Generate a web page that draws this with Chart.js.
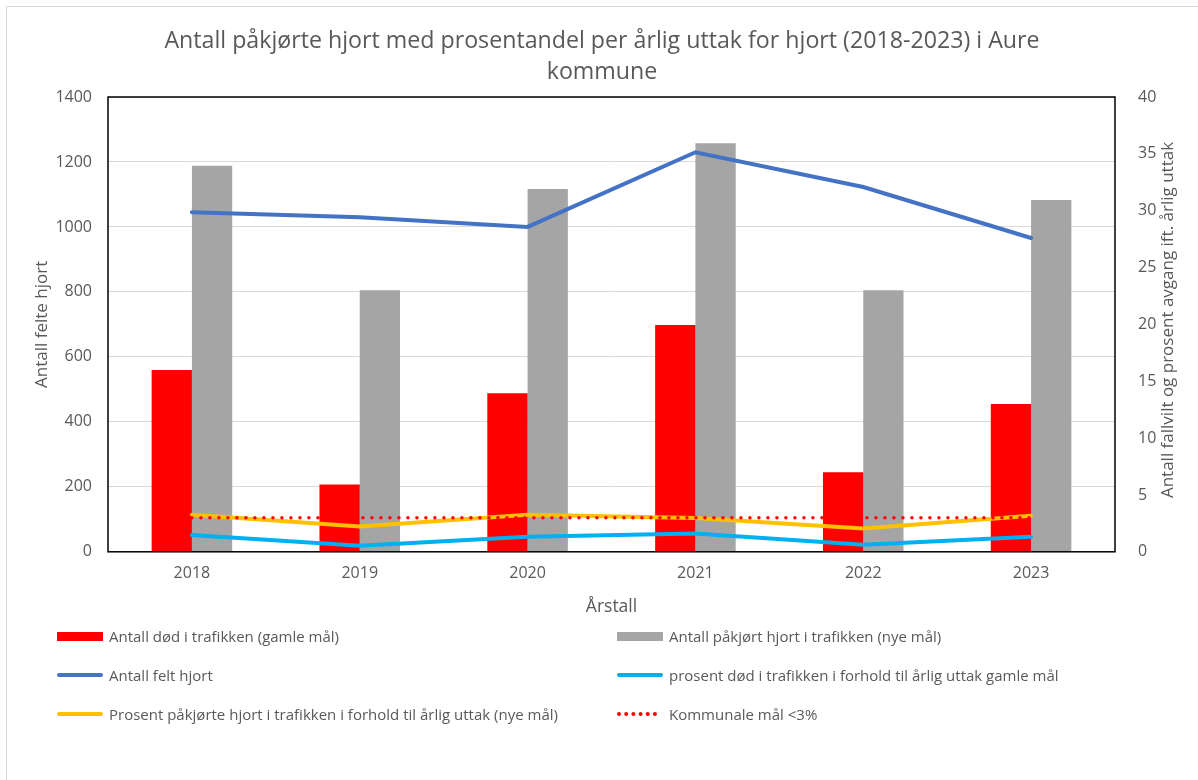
<!DOCTYPE html>
<html lang="no">
<head>
<meta charset="utf-8">
<title>Påkjørte hjort Aure</title>
<script src="https://cdn.jsdelivr.net/npm/chart.js@4.4.1/dist/chart.umd.min.js"></script>
<style>
  html, body { margin: 0; padding: 0; background: #fff; overflow: hidden; }
  body { width: 1198px; height: 780px; position: relative; font-family: 'Open Sans', sans-serif; color: #595959; }
  .frame { position: absolute; left: 6px; top: 6px; width: 1300px; height: 900px; border: 1px solid #d9d9d9; box-sizing: border-box; }
  .wrap { position: absolute; left: 0; top: 0; width: 1198px; height: 780px; }
  .title { position: absolute; left: 0; top: 24px; width: 1204px; text-align: center; font-size: 23.2px; line-height: 31px; }
  .legend { position: absolute; left: 0; top: 0; width: 1198px; height: 780px; pointer-events: none; }
  .item { position: absolute; display: flex; align-items: center; font-size: 15px; white-space: nowrap; height: 20px; }
  .swatch { width: 46px; height: 20px; margin-right: 6px; position: relative; }
  .swatch span { position: absolute; left: 0; right: 0; top: 50%; }
  .ytitle-right { position: absolute; left: 1166px; top: 320px; transform: translate(-50%, -50%) rotate(-90deg);
    white-space: nowrap; font-size: 17px; }
</style>
</head>
<body>
<div class="frame"></div>
<div class="wrap"><canvas id="chart" width="1198" height="780"></canvas></div>
<div class="title">Antall påkjørte hjort med prosentandel per årlig uttak for hjort (2018-2023) i Aure<br>kommune</div>
<div class="legend" id="legend"></div>
<div class="ytitle-right">Antall fallvilt og prosent avgang ift. årlig uttak</div>

<script>
// Data lest av fra figuren
const years = ['2018', '2019', '2020', '2021', '2022', '2023'];
const deadOld = [560, 207, 488, 698, 245, 455];          // Antall død i trafikken (gamle mål)
const hitNew = [1188, 805, 1117, 1258, 805, 1083];       // Antall påkjørt hjort i trafikken (nye mål)
const felled = [1045, 1030, 1000, 1230, 1123, 966];      // Antall felt hjort
const pctDeadOld = [1.47, 0.53, 1.32, 1.61, 0.62, 1.32]; // prosent død i trafikken
const pctHitNew = [3.26, 2.23, 3.26, 2.97, 2.05, 3.17];  // prosent påkjørte (nye mål)
const municipalGoal = [3, 3, 3, 3, 3, 3];                 // Kommunale mål <3%

const leftTicks = [0, 200, 400, 600, 800, 1000, 1200, 1400];
const rightTicks = [0, 5, 10, 15, 20, 25, 30, 35, 40];

const textColor = '#595959';
const gridColor = '#d9d9d9';
const font = "'Open Sans', sans-serif";

// Ramme rundt plotområdet
const plotFrame = {
  id: 'plotFrame',
  afterDatasetsDraw(chart) {
    const { ctx, chartArea: a } = chart;
    ctx.save();
    ctx.strokeStyle = '#000';
    ctx.lineWidth = 1.5;
    ctx.strokeRect(a.left, a.top, a.right - a.left, a.bottom - a.top);
    ctx.restore();
  }
};

const datasets = [
  {
    type: 'bar', label: 'Antall død i trafikken (gamle mål)', data: deadOld,
    backgroundColor: '#ff0000', yAxisID: 'y', order: 2,
    categoryPercentage: 0.48, barPercentage: 1
  },
  {
    type: 'bar', label: 'Antall påkjørt hjort i trafikken (nye mål)', data: hitNew,
    backgroundColor: '#a5a5a5', yAxisID: 'y', order: 2,
    categoryPercentage: 0.48, barPercentage: 1
  },
  {
    type: 'line', label: 'Antall felt hjort', data: felled,
    borderColor: '#4472c4', borderWidth: 4, pointRadius: 0, tension: 0,
    borderCapStyle: 'round', yAxisID: 'y', order: 1
  },
  {
    type: 'line', label: 'prosent død i trafikken i forhold til årlig uttak gamle mål', data: pctDeadOld,
    borderColor: '#00b0f0', borderWidth: 4, pointRadius: 0, tension: 0,
    borderCapStyle: 'round', yAxisID: 'y1', order: 1
  },
  {
    type: 'line', label: 'Prosent påkjørte hjort i trafikken i forhold til årlig uttak (nye mål)', data: pctHitNew,
    borderColor: '#ffc000', borderWidth: 4, pointRadius: 0, tension: 0,
    borderCapStyle: 'round', yAxisID: 'y1', order: 1
  },
  {
    type: 'line', label: 'Kommunale mål <3%', data: municipalGoal,
    borderColor: '#ff0000', borderWidth: 3.5, borderDash: [0, 9], borderCapStyle: 'round',
    pointRadius: 0, tension: 0, yAxisID: 'y1', order: 0
  }
];

const chart = new Chart(document.getElementById('chart'), {
  data: { labels: years, datasets },
  plugins: [plotFrame],
  options: {
    responsive: false,
    animation: false,
    layout: { padding: { left: 28, right: 40, top: 97, bottom: 162 } },
    plugins: {
      legend: { display: false },
      tooltip: { enabled: false },
      title: { display: false }
    },
    scales: {
      x: {
        grid: { display: false, drawTicks: false },
        border: { display: false },
        ticks: { color: textColor, font: { family: font, size: 16 }, padding: 12 },
        title: { display: true, text: 'Årstall', color: textColor, font: { family: font, size: 17.5 }, padding: { top: 2, bottom: 0 } }
      },
      y: {
        position: 'left',
        min: 0, max: 1400,
        afterBuildTicks: axis => { axis.ticks = leftTicks.map(v => ({ value: v })); },
        afterFit: axis => { axis.width = 80; },
        grid: { color: gridColor, lineWidth: 1, drawTicks: false },
        border: { display: false },
        ticks: { color: textColor, font: { family: font, size: 16 }, padding: 16, callback: v => String(v) },
        title: { display: true, text: 'Antall felte hjort', color: textColor, font: { family: font, size: 17 }, padding: 4 }
      },
      y1: {
        position: 'right',
        min: 0, max: 40,
        afterBuildTicks: axis => { axis.ticks = rightTicks.map(v => ({ value: v })); },
        afterFit: axis => { axis.width = 43; },
        grid: { display: false, drawTicks: false },
        border: { display: false },
        ticks: { color: textColor, font: { family: font, size: 16 }, padding: 23, callback: v => String(v) }
      }
    }
  }
});

// Egen forklaring i to kolonner, bygget fra datasettene
const legendPos = [
  [57, 626], [617, 626],
  [57, 665], [617, 665],
  [57, 704], [617, 704]
];
const legend = document.getElementById('legend');
datasets.forEach((ds, i) => {
  const item = document.createElement('div');
  item.className = 'item';
  item.style.left = legendPos[i][0] + 'px';
  item.style.top = legendPos[i][1] + 'px';
  const sw = document.createElement('div');
  sw.className = 'swatch';
  const mark = document.createElement('span');
  if (ds.type === 'bar') {
    mark.style.height = '9px';
    mark.style.marginTop = '-4.5px';
    mark.style.background = ds.backgroundColor;
  } else if (ds.borderDash) {
    mark.style.height = '0';
    mark.style.marginTop = '-2px';
    mark.style.borderTop = '4px dotted ' + ds.borderColor;
    mark.style.right = '6px';
  } else {
    mark.style.height = '4px';
    mark.style.marginTop = '-2px';
    mark.style.borderRadius = '2px';
    mark.style.background = ds.borderColor;
  }
  sw.appendChild(mark);
  const label = document.createElement('span');
  label.textContent = ds.label;
  item.appendChild(sw);
  item.appendChild(label);
  legend.appendChild(item);
});
</script>
</body>
</html>
